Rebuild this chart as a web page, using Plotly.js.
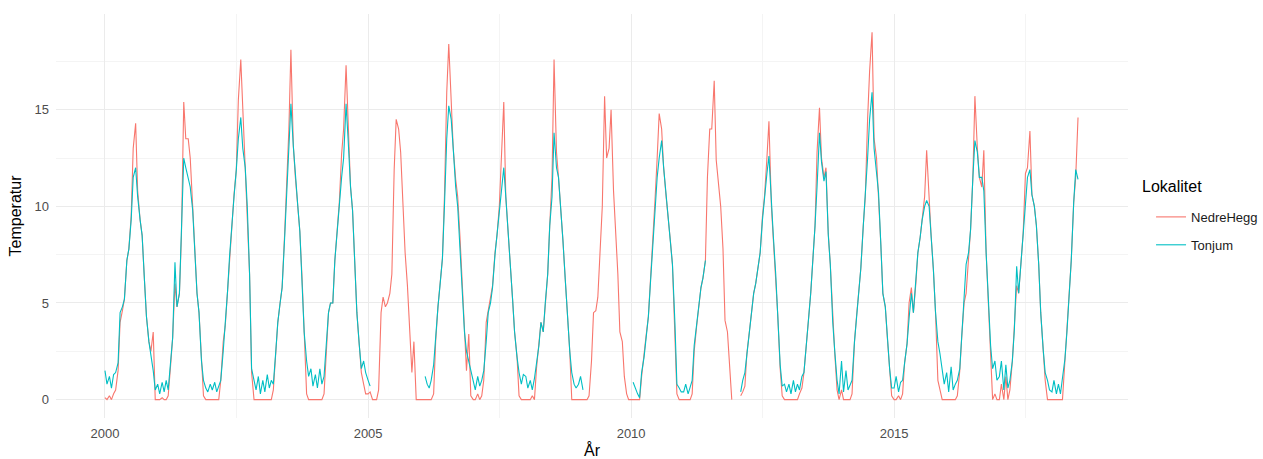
<!DOCTYPE html>
<html>
<head>
<meta charset="utf-8">
<script src="https://cdn.plot.ly/plotly-3.0.1.min.js"></script>
<style>html,body{margin:0;padding:0;background:#fff;}#chart{width:1263px;height:459px;}</style>
</head>
<body>
<div id="chart"></div>
<script>
// Semi-monthly readings (1st and 15th of each month), temperature in °C
const years = [2000,2001,2002,2003,2004,2005,2006,2007,2008,2009,2010,2011,2012,2013,2014,2015,2016,2017,2018];

const nh2000 = [0.1,0,0.2,0,0.3,0.5,1.5,4.0,4.6,5.2,7.2,7.8,9.5,13.0,14.3,10.8,9.3,8.5,6.2,4.3,3.0,2.5,3.5,0];
const tj2000 = [1.5,0.8,1.2,0.6,1.3,1.4,1.9,4.5,4.8,5.2,7.2,7.8,9.3,11.5,12.0,10.5,9.3,8.5,6.2,4.3,3.0,2.4,1.5,0.5];
const nh2001 = [0,0,0.1,0,0,0.2,1.8,3.2,6.0,4.8,5.5,8.5,15.4,13.5,13.5,12.5,10.0,7.8,5.5,4.5,2.0,0.2,0,0];
const tj2001 = [0.8,0.3,0.9,0.4,1.0,0.5,1.8,3.2,7.1,4.8,5.5,8.5,12.5,12.0,11.5,11.0,9.8,7.8,5.5,4.5,2.0,1.0,0.6,0.4];
const nh2002 = [0,0,0,0,0,1.0,3.0,3.8,5.6,7.4,9.5,10.6,11.9,15.5,17.6,15.0,12.0,10.0,6.5,1.4,0,0,0,0];
const tj2002 = [0.8,0.5,0.9,0.4,0.7,1.0,2.5,3.8,5.6,7.4,9.3,10.5,11.9,13.5,14.6,13.0,12.0,10.0,6.5,1.6,1.0,0.5,1.2,0.3];
const nh2003 = [0,0,0,0,0,0.5,2.5,4.0,5.0,5.8,8.5,10.8,14.0,18.1,13.1,11.5,10.0,8.7,6.2,3.5,0.3,0,0,0];
const tj2003 = [1.0,0.4,1.3,0.6,1.0,0.8,2.5,4.0,5.0,5.8,8.3,10.5,12.5,15.3,13.1,11.5,10.0,8.7,6.2,3.5,2.0,1.2,1.6,0.7];
const nh2004 = [0,0,0,0,0.3,2.5,4.5,5.0,5.0,7.2,8.8,10.2,12.7,14.0,17.3,14.3,11.0,9.8,6.5,4.5,2.8,1.4,0.8,0.3];
const tj2004 = [1.3,0.6,1.6,0.8,1.2,2.5,4.5,5.0,5.0,7.2,8.8,10.2,11.5,12.5,15.3,13.5,11.0,9.8,6.5,4.5,2.8,1.6,2.0,1.4];
const nh2005 = [0.3,0.4,0,0,0,0.5,4.5,5.3,4.8,5.0,5.5,6.5,11.9,14.5,14.0,12.8,10.0,7.6,5.9,3.5,1.4,3.0,0,0];
const tj2005 = [1.0,0.7,null,null,null,null,null,null,null,null,null,null,null,null,null,null,null,null,null,null,null,null,null,null];
const nh2006 = [0,0,0,0,0,0,0.3,3.0,4.8,5.9,7.3,10.5,15.9,18.4,15.5,13.0,11.4,10.5,8.4,6.2,3.5,1.5,3.4,0.2];
const tj2006 = [null,null,1.2,0.8,0.6,1.0,1.8,3.4,4.8,5.9,7.3,10.0,13.5,15.2,14.5,13.0,11.0,10.0,8.0,6.0,3.5,2.5,2.0,1.6];
const nh2007 = [0,0,0.3,0,0.2,1.0,4.0,4.6,5.2,5.9,7.6,8.5,10.0,12.5,15.4,10.5,8.3,7.0,5.2,3.5,2.2,0.2,0,0];
const tj2007 = [1.0,0.5,1.2,0.7,1.0,1.5,3.0,4.5,5.0,5.8,7.5,8.5,10.0,11.0,12.0,10.5,8.3,7.0,5.2,3.5,2.2,1.4,0.8,1.3];
const nh2008 = [0,0,0,0.2,0,1.6,2.8,4.0,3.5,5.0,6.5,9.0,11.5,17.6,12.8,11.5,9.8,8.2,6.2,4.5,2.5,0,0,0];
const tj2008 = [1.2,0.6,1.0,0.5,1.1,1.8,2.8,4.0,3.5,5.0,6.5,9.0,10.5,13.8,12.0,11.5,9.8,8.2,6.2,4.5,2.5,1.4,0.8,0.6];
const nh2009 = [0,0,0,0,0,0.2,2.0,4.5,4.6,5.3,7.6,10.0,15.7,12.5,13.0,15.0,10.8,9.0,6.5,3.5,3.0,1.2,0.3,0];
const tj2009 = [0.8,1.2,0.5,null,null,null,null,null,null,null,null,null,null,null,null,null,null,null,null,null,null,null,null,null];
const nh2010 = [0,0,0,0,0,1.2,2.2,3.3,4.3,6.0,8.0,10.2,12.5,14.8,14.0,12.0,10.5,9.2,8.2,7.0,3.8,0.3,0,0];
const tj2010 = [null,0.9,0.5,0.3,0.1,1.4,2.2,3.3,4.3,6.0,8.0,10.0,11.5,12.5,13.4,12.0,10.5,9.2,8.0,7.0,4.0,0.8,0.6,0.4];
const nh2011 = [0,0,0,0,0.3,2.5,3.8,4.8,5.8,6.3,7.2,11.5,14.0,14.0,16.5,12.4,11.0,10.0,7.8,4.1,3.5,1.6,0,null];
const tj2011 = [0.4,0.8,0.3,0.6,1.0,2.8,3.8,4.8,5.8,6.3,7.2,null,null,null,null,null,null,null,null,null,null,null,null,null];
const nh2012 = [null,null,0.2,0.4,0.7,2.4,3.5,4.6,5.5,6.0,6.9,7.6,9.5,10.5,12.5,14.4,10.0,8.4,6.5,4.4,1.6,0.2,0,0];
const tj2012 = [null,null,0.4,1.0,1.4,2.4,3.5,4.6,5.5,6.0,6.9,7.6,9.3,10.5,11.7,12.6,10.0,8.4,6.5,4.4,1.8,0.7,0.8,0.4];
const nh2013 = [0,0,0,0,0,0.3,0.6,1.4,2.6,4.0,5.5,7.0,9.0,12.8,15.1,12.5,11.5,12.0,8.6,7.0,4.0,2.4,0.5,0];
const tj2013 = [0.8,0.3,1.0,0.4,0.8,0.5,1.2,1.4,2.6,4.0,5.5,7.0,9.0,11.0,13.8,12.3,11.3,11.8,8.5,7.0,4.0,2.5,1.0,0.3];
const nh2014 = [0.5,0,0,0,0,0.3,3.0,4.3,5.5,6.8,9.0,10.5,14.5,17.0,19.0,13.5,12.5,10.7,8.0,5.5,4.8,3.2,1.4,0.2];
const tj2014 = [2.0,0.4,1.5,0.5,0.8,1.0,3.0,4.3,5.5,6.8,9.0,10.5,12.5,14.5,15.9,13.0,11.5,10.7,8.0,5.5,4.8,3.2,1.6,0.6];
const nh2015 = [0,0,0.2,0,0.3,1.9,2.9,5.0,5.8,4.5,6.0,7.6,8.4,9.3,10.5,12.9,10.0,8.5,6.7,4.6,1.0,0.5,0,0];
const tj2015 = [0.6,1.2,0.4,0.9,1.0,1.9,2.9,4.2,5.5,4.5,6.0,7.6,8.4,9.3,10.0,10.3,10.0,8.5,6.7,4.6,3.0,2.4,1.6,0.8];
const nh2016 = [0,0,0,0,0,0.2,1.5,3.3,5.0,5.5,7.6,8.8,11.5,15.7,13.0,11.5,11.0,12.9,7.6,5.0,2.8,0,0.3,0];
const tj2016 = [1.4,0.4,1.7,0.5,0.8,1.0,1.6,3.3,5.0,7.0,7.6,8.8,11.5,13.4,12.8,11.5,11.5,10.8,7.6,5.0,2.8,1.6,2.0,1.0];
const nh2017 = [0,0.8,0,1.2,0,0.5,2.0,3.6,5.9,5.5,7.2,8.6,11.7,12.0,13.9,10.6,10.0,9.0,7.0,4.5,2.6,1.0,0,0];
const tj2017 = [1.2,2.0,0.5,1.8,0.6,1.0,2.0,3.6,6.9,5.5,7.2,8.6,10.5,11.5,11.9,10.6,10.0,9.0,7.0,4.5,2.6,1.4,1.0,0.5];
const nh2018 = [0,0,0,0,0,0,2.0,3.5,5.2,7.2,10.2,11.5,14.6];
const tj2018 = [0.4,1.0,0.3,0.8,0.3,1.2,2.1,3.5,5.2,7.2,10.2,11.9,11.4];

const nedreByYear = [nh2000,nh2001,nh2002,nh2003,nh2004,nh2005,nh2006,nh2007,nh2008,nh2009,nh2010,nh2011,nh2012,nh2013,nh2014,nh2015,nh2016,nh2017,nh2018];
const tonjumByYear = [tj2000,tj2001,tj2002,tj2003,tj2004,tj2005,tj2006,tj2007,tj2008,tj2009,tj2010,tj2011,tj2012,tj2013,tj2014,tj2015,tj2016,tj2017,tj2018];

const seriesNames = ['NedreHegg','Tonjum'];
const seriesColors = ['#F8766D','#00BFC4'];
const tickYears = ['2000','2005','2010','2015'];

function flatten(byYear){
  const x = [], y = [];
  byYear.forEach((vals, k) => {
    vals.forEach((v, i) => {
      const m = String(Math.floor(i/2)+1).padStart(2,'0');
      const d = i % 2 === 0 ? '01' : '15';
      x.push(years[k] + '-' + m + '-' + d);
      y.push(v);
    });
  });
  return {x, y};
}

const traces = [nedreByYear, tonjumByYear].map((byYear, s) => {
  const f = flatten(byYear);
  return {
    type: 'scatter', mode: 'lines', x: f.x, y: f.y,
    name: seriesNames[s], legendgroup: seriesNames[s],
    line: {color: seriesColors[s], width: 1.1},
    connectgaps: false
  };
});

const font = "'Liberation Sans', Arial, sans-serif";
const layout = {
  width: 1263, height: 459,
  margin: {l: 56, r: 135, t: 14, b: 41, autoexpand: false},
  paper_bgcolor: '#fff', plot_bgcolor: '#fff',
  font: {family: font, size: 13, color: '#4D4D4D'},
  showlegend: true,
  legend: {
    x: 1.0215, xanchor: 'left', y: 0.463, yanchor: 'middle',
    font: {family: font, size: 13, color: '#1A1A1A'},
    tracegroupgap: 8, bgcolor: 'rgba(0,0,0,0)'
  },
  annotations: [{
    text: 'Lokalitet', xref: 'paper', yref: 'paper', x: 1.0112, y: 0.572,
    xanchor: 'left', yanchor: 'middle', showarrow: false,
    font: {family: font, size: 16, color: '#000'}
  }],
  xaxis: {
    type: 'date',
    range: ['1999-01-26', '2019-06-13'],
    tickvals: tickYears.map(t => t + '-01-01'), ticktext: tickYears,
    showgrid: true, gridcolor: '#EBEBEB', gridwidth: 1,
    minor: {dtick: 'M30', tick0: '2000-01-01', showgrid: true, gridcolor: '#F4F4F4', gridwidth: 1, ticklen: 0},
    zeroline: false, showline: false, ticks: '',
    tickfont: {family: font, size: 13, color: '#4D4D4D'},
    ticklabelstandoff: 6,
    title: {text: 'År', font: {family: font, size: 16, color: '#000'}, standoff: 4}
  },
  yaxis: {
    range: [-0.95, 19.95],
    tickvals: [0,5,10,15],
    showgrid: true, gridcolor: '#EBEBEB', gridwidth: 1,
    minor: {tickvals: [2.5,7.5,12.5,17.5], showgrid: true, gridcolor: '#F4F4F4', gridwidth: 1, ticklen: 0},
    zeroline: false, showline: false, ticks: '',
    tickfont: {family: font, size: 13, color: '#4D4D4D'},
    ticklabelstandoff: 6,
    title: {text: 'Temperatur', font: {family: font, size: 16, color: '#000'}, standoff: 8}
  }
};

Plotly.newPlot('chart', traces, layout, {displayModeBar: false, staticPlot: true});
</script>
</body>
</html>
